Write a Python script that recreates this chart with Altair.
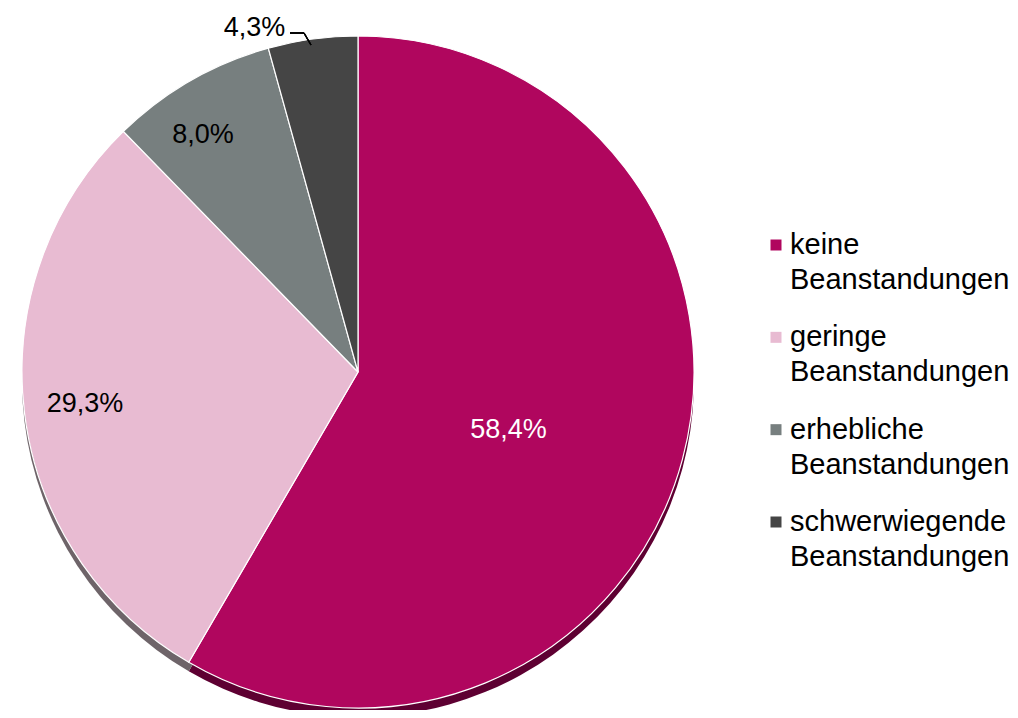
import altair as alt
import pandas as pd

categories = ["keine\nBeanstandungen", "geringe\nBeanstandungen",
              "erhebliche\nBeanstandungen", "schwerwiegende\nBeanstandungen"]
values = [58.4, 29.3, 8.0, 4.3]
labels = ["58,4%", "29,3%", "8,0%", "4,3%"]
colors = ["#B0065E", "#E8BBD2", "#777F7F", "#454545"]
shadow_colors = ["#5E0032", "#6E6469", "#4A4F4F", "#2A2A2A"]

df = pd.DataFrame({"cat": categories, "value": values, "label": labels,
                   "order": list(range(len(categories)))})

CX, CY, R = 350, 364, 336
FONT = "Liberation Sans"

theta = alt.Theta("value:Q", stack=True)
order = alt.Order("order:Q")
base = alt.Chart(df)

shadow = base.mark_arc(radius=R, stroke=None).encode(
    theta=theta, order=order,
    color=alt.Color("cat:N", scale=alt.Scale(domain=categories, range=shadow_colors), legend=None),
    x=alt.value(CX), y=alt.value(CY + 9),
)

pie = base.mark_arc(radius=R, stroke="white", strokeWidth=1.2).encode(
    theta=theta, order=order,
    color=alt.Color("cat:N", scale=alt.Scale(domain=categories, range=colors), legend=None),
    x=alt.value(CX), y=alt.value(CY),
)


def label_layer(idx, radius, color, dx=0, dy=0):
    return base.transform_stack(
        stack="value", groupby=[], as_=["v0", "v1"], sort=[alt.SortField("order")]
    ).transform_calculate(
        mid="(datum.v0 + datum.v1) / 2"
    ).transform_filter(alt.datum.order == idx).mark_text(
        radius=radius, font=FONT, fontSize=27, color=color, dx=dx, dy=dy
    ).encode(theta=alt.Theta("mid:Q", scale=alt.Scale(domain=[0, 100]), stack=False),
             text="label:N", x=alt.value(CX), y=alt.value(CY))


l0 = label_layer(0, 160, "white", dx=-4, dy=16)
l1 = label_layer(1, 275, "black", dy=-2)
l2 = label_layer(2, 283, "black", dx=-14, dy=8)
l3 = label_layer(3, 360, "black", dx=-55, dy=13)

lead1 = alt.Chart(df).mark_rule(color="black", strokeWidth=1.2).encode(
    x=alt.value(282), x2=alt.value(296), y=alt.value(25), y2=alt.value(25))
lead2 = alt.Chart(df).mark_rule(color="black", strokeWidth=1.2).encode(
    x=alt.value(296), x2=alt.value(303), y=alt.value(25), y2=alt.value(37))

# legend
leg_y = alt.Y("cat:N", sort=categories, axis=None,
              scale=alt.Scale(domain=categories, range=[237, 514], padding=0))
leg_sym = base.mark_square(size=121, opacity=1).encode(
    y=leg_y, x=alt.value(768),
    color=alt.Color("cat:N", scale=alt.Scale(domain=categories, range=colors), legend=None),
)
leg_txt = base.transform_calculate(lines="split(datum.cat, '\\n')").mark_text(
    align="left", baseline="middle", font=FONT, fontSize=29, lineHeight=35, color="black"
).encode(y=leg_y, x=alt.value(782), text="lines:N")

chart = alt.layer(shadow, pie, l0, l1, l2, l3, lead1, lead2, leg_sym, leg_txt).resolve_scale(
    color="independent", theta="independent"
).properties(
    width=1002, height=702, autosize=alt.AutoSizeParams(type="none"), padding=0
).configure_view(stroke=None)

chart.save("out.html", embed_options={"renderer": "svg", "actions": False})
